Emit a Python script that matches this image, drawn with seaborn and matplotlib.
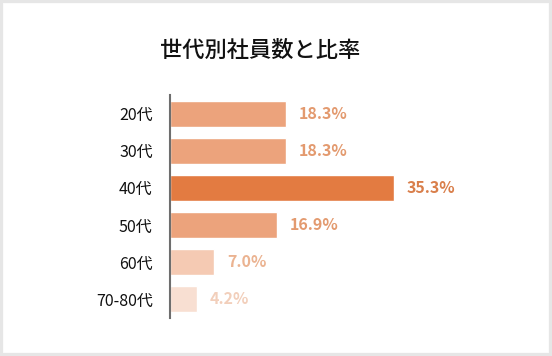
import matplotlib
matplotlib.use("Agg")
import matplotlib.pyplot as plt
from matplotlib.patches import Rectangle
import pandas as pd
import seaborn as sns

generations = ["20代", "30代", "40代", "50代", "60代", "70-80代"]
ratios = [18.3, 18.3, 35.3, 16.9, 7.0, 4.2]
bar_colors = ["#eca37c", "#eca37c", "#e37b41", "#eca37c", "#f5cab3", "#f8dfd2"]
label_colors = ["#e39a6f", "#e39a6f", "#d97f4b", "#e39a6f", "#ebb391", "#f2cfbb"]
title = "世代別社員数と比率"

sns.set_style("white")
plt.rcParams['font.family'] = ['Noto Sans CJK JP', 'DejaVu Sans']

df = pd.DataFrame({"generation": generations, "ratio": ratios})

fig = plt.figure(figsize=(5.52, 3.56), dpi=100)
ax = fig.add_axes([170 / 552, 38 / 356, 330 / 552, 223 / 356])

sns.barplot(data=df, y="generation", x="ratio", hue="generation",
            palette=bar_colors, saturation=1, orient="h", width=0.7,
            legend=False, ax=ax)

for i, (v, c) in enumerate(zip(ratios, label_colors)):
    ax.annotate(f"{v:.1f}%", xy=(v, i), xytext=(9, 0), textcoords="offset points",
                va="center", ha="left", fontsize=11.5, fontweight="bold", color=c)

ax.set_xlim(0, 52)
ax.set_ylim(5.5, -0.5)
ax.set_xlabel("")
ax.set_ylabel("")
ax.set_xticks([])
for s in ["top", "right", "bottom"]:
    ax.spines[s].set_visible(False)
ax.spines["left"].set_color("#6e6e6e")
ax.spines["left"].set_linewidth(1.5)
ax.tick_params(axis="y", length=0, pad=12.5, labelsize=11.5, labelcolor="#111111")

fig.text(260 / 552, 1 - 50 / 356, title, ha="center", va="center",
         fontsize=16, fontweight="medium", color="#111111")

fig.patches.append(Rectangle((0, 0), 1, 1, transform=fig.transFigure, fill=False,
                             edgecolor="#e6e6e6", linewidth=4.5))

fig.savefig("out.png", dpi=100, facecolor="white")
